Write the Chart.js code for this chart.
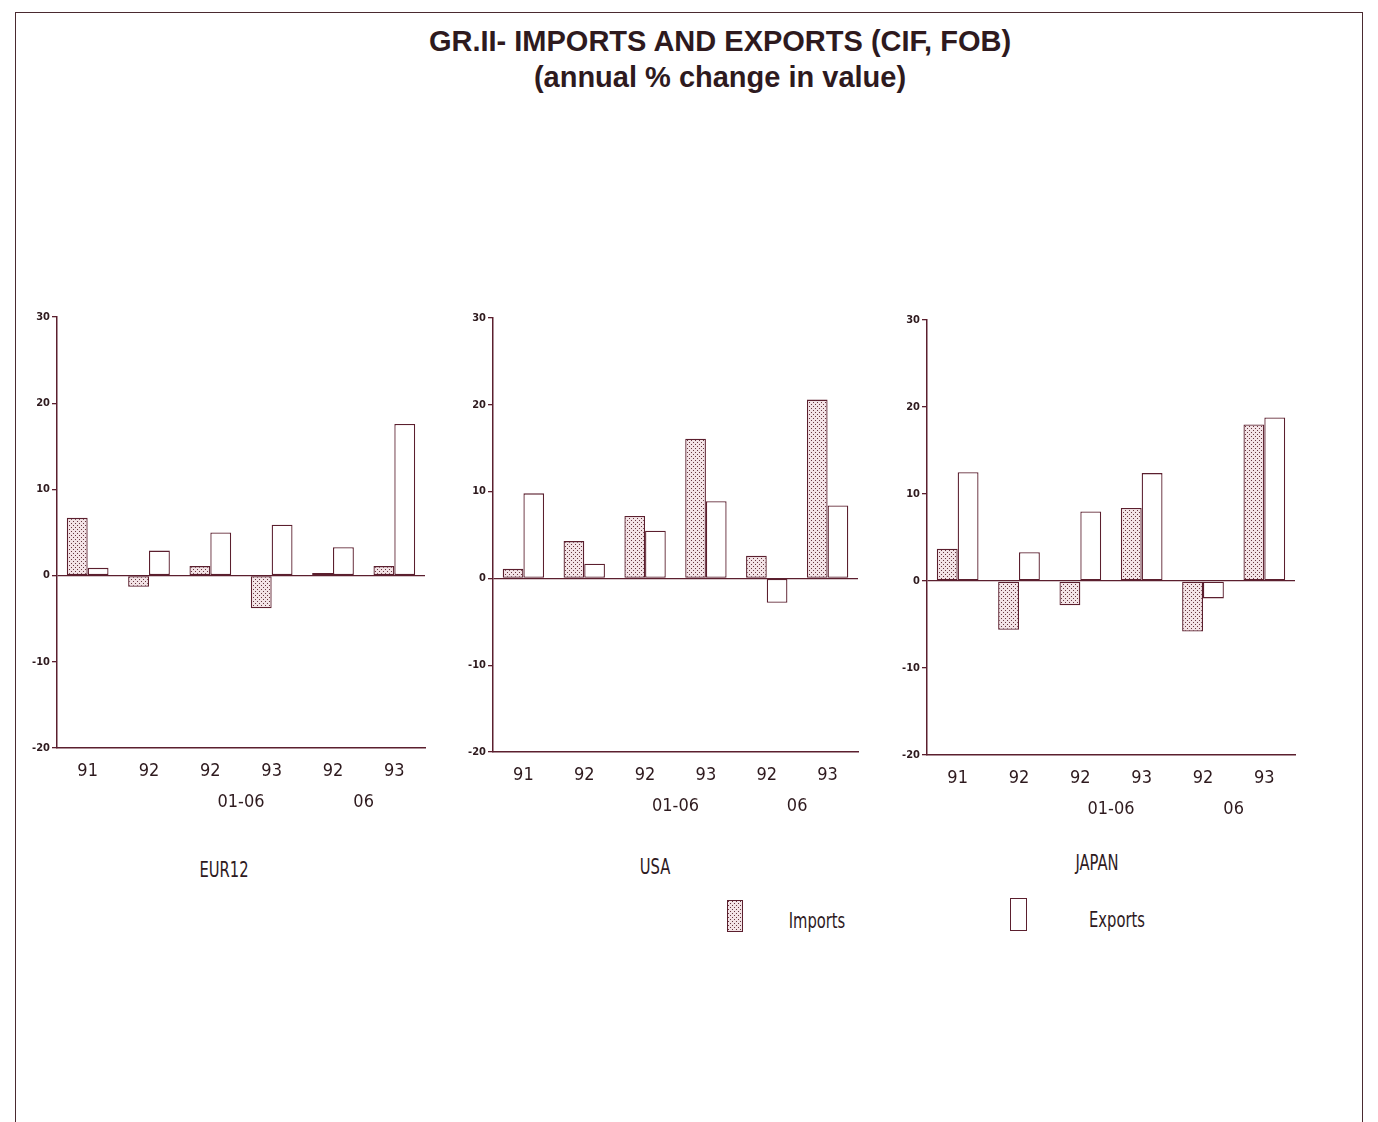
<!DOCTYPE html>
<html>
<head>
<meta charset="utf-8">
<script src="https://cdn.jsdelivr.net/npm/chart.js@4/dist/chart.umd.min.js"></script>
<style>
  body { margin: 0; background: #fff; width: 1378px; height: 1122px; overflow: hidden; position: relative; font-family: "Liberation Sans", Arial, sans-serif; color: #2e1a1e; }
  .frame { position: absolute; left: 15px; top: 12px; width: 1346px; height: 1120px; border: 1.5px solid #4a2a30; border-bottom: none; }
  .title { position: absolute; left: 0; width: 1440px; top: 23px; text-align: center; font-weight: bold; font-size: 29px; line-height: 36px; }
  canvas { position: absolute; }
  .lbl { position: absolute; font-family: "DejaVu Sans Condensed", sans-serif; font-size: 21px; white-space: nowrap; transform: translateX(-50%) scaleX(0.78); }
  .sw { position: absolute; border: 1.5px solid #5b1f2e; }
</style>
</head>
<body>
<div class="frame"></div>
<div class="title">GR.II- IMPORTS AND EXPORTS (CIF, FOB)<br>(annual % change in value)</div>

<canvas id="eur"></canvas>
<canvas id="usa"></canvas>
<canvas id="jap"></canvas>

<div class="lbl" style="left:224px; top:858px;">EUR12</div>
<div class="lbl" style="left:655px; top:855px;">USA</div>
<div class="lbl" style="left:1097px; top:851px;">JAPAN</div>

<div class="sw" id="impSwatch" style="left:727px; top:900px; width:14px; height:30px;"></div>
<div class="lbl" style="left:817px; top:909px;">Imports</div>
<div class="sw" style="left:1010px; top:898px; width:15px; height:31px; background:#fff;"></div>
<div class="lbl" style="left:1117px; top:908px;">Exports</div>

<script>
// categories and group labels
const categories = ["91", "92", "92", "93", "92", "93"];
const groupLabels = ["", "01-06", "06"];

// annual % change
const eurImports = [6.7, -1.3, 1.1, -3.8, 0.3, 1.1];
const eurExports = [0.9, 2.9, 5.0, 5.9, 3.3, 17.6];
const usaImports = [1.1, 4.3, 7.2, 16.1, 2.6, 20.6];
const usaExports = [9.8, 1.7, 5.5, 8.9, -2.8, 8.4];
const japImports = [3.7, -5.6, -2.8, 8.4, -5.8, 18.0];
const japExports = [12.5, 3.3, 8.0, 12.4, -2.0, 18.8];

const yTicks = [-20, -10, 0, 10, 20, 30];

const lineColor = "#5b1f2e";
const textColor = "#2e1a1e";
const narrow = "'DejaVu Sans Condensed', 'Liberation Sans Narrow', sans-serif";

// dotted fill for imports
const tile = document.createElement("canvas");
tile.width = 4; tile.height = 4;
const tg = tile.getContext("2d");
tg.fillStyle = "#f3e3e6";
tg.fillRect(0, 0, 4, 4);
tg.fillStyle = "#66363e";
tg.fillRect(0, 0, 1, 1);
tg.fillRect(2, 2, 1, 1);
const dots = tg.createPattern(tile, "repeat");
document.getElementById("impSwatch").style.background = "url(" + tile.toDataURL() + ")";

const Y_WIDTH = 40, PAD_TOP = 12, PAD_RIGHT = 8, X1_H = 36, X2_H = 32;

function makePanel(id, area, imports, exports) {
    const cv = document.getElementById(id);
    const w = (area.right - area.left) + Y_WIDTH + PAD_RIGHT;
    const h = (area.bottom - area.top) + PAD_TOP + X1_H + X2_H;
    cv.style.left = (area.left - Y_WIDTH) + "px";
    cv.style.top = (area.top - PAD_TOP) + "px";
    cv.style.width = w + "px";
    cv.style.height = h + "px";
    cv.width = w; cv.height = h;

    new Chart(cv.getContext("2d"), {
        type: "bar",
        data: {
            labels: categories,
            datasets: [
                { label: "Imports", data: imports, backgroundColor: dots, borderColor: lineColor, borderWidth: 1.3, borderSkipped: false },
                { label: "Exports", data: exports, backgroundColor: "#ffffff", borderColor: lineColor, borderWidth: 1.3, borderSkipped: false }
            ]
        },
        options: {
            responsive: false,
            animation: false,
            layout: { padding: { top: PAD_TOP, right: PAD_RIGHT, left: 0, bottom: 0 } },
            datasets: { bar: { categoryPercentage: 0.68, barPercentage: 1.0 } },
            plugins: { legend: { display: false }, tooltip: { enabled: false } },
            scales: {
                x: {
                    position: "bottom",
                    grid: { display: false },
                    border: { display: true, color: lineColor, width: 1.5 },
                    ticks: { color: textColor, font: { family: narrow, size: 18 }, padding: 5, maxRotation: 0 },
                    afterFit: s => { s.height = X1_H; }
                },
                x2: {
                    type: "category",
                    labels: groupLabels,
                    position: "bottom",
                    offset: true,
                    grid: { display: false },
                    border: { display: false },
                    ticks: { color: textColor, font: { family: narrow, size: 18 }, padding: 0, maxRotation: 0 },
                    afterFit: s => { s.height = X2_H; }
                },
                y: {
                    min: -20,
                    max: 30,
                    afterBuildTicks: s => { s.ticks = yTicks.map(v => ({ value: v })); },
                    grid: {
                        color: c => (c.tick && c.tick.value === 0) ? lineColor : "rgba(0,0,0,0)",
                        lineWidth: 1.3,
                        tickColor: lineColor,
                        tickLength: 5
                    },
                    border: { display: true, color: lineColor, width: 1.5 },
                    ticks: { color: textColor, font: { family: narrow, size: 11, weight: "bold" }, padding: 2 },
                    afterFit: s => { s.width = Y_WIDTH; }
                }
            }
        }
    });
}

makePanel("eur", { left: 57, right: 425, top: 317, bottom: 748 }, eurImports, eurExports);
makePanel("usa", { left: 493, right: 858, top: 318, bottom: 752 }, usaImports, usaExports);
makePanel("jap", { left: 927, right: 1295, top: 320, bottom: 755 }, japImports, japExports);
</script>
</body>
</html>
